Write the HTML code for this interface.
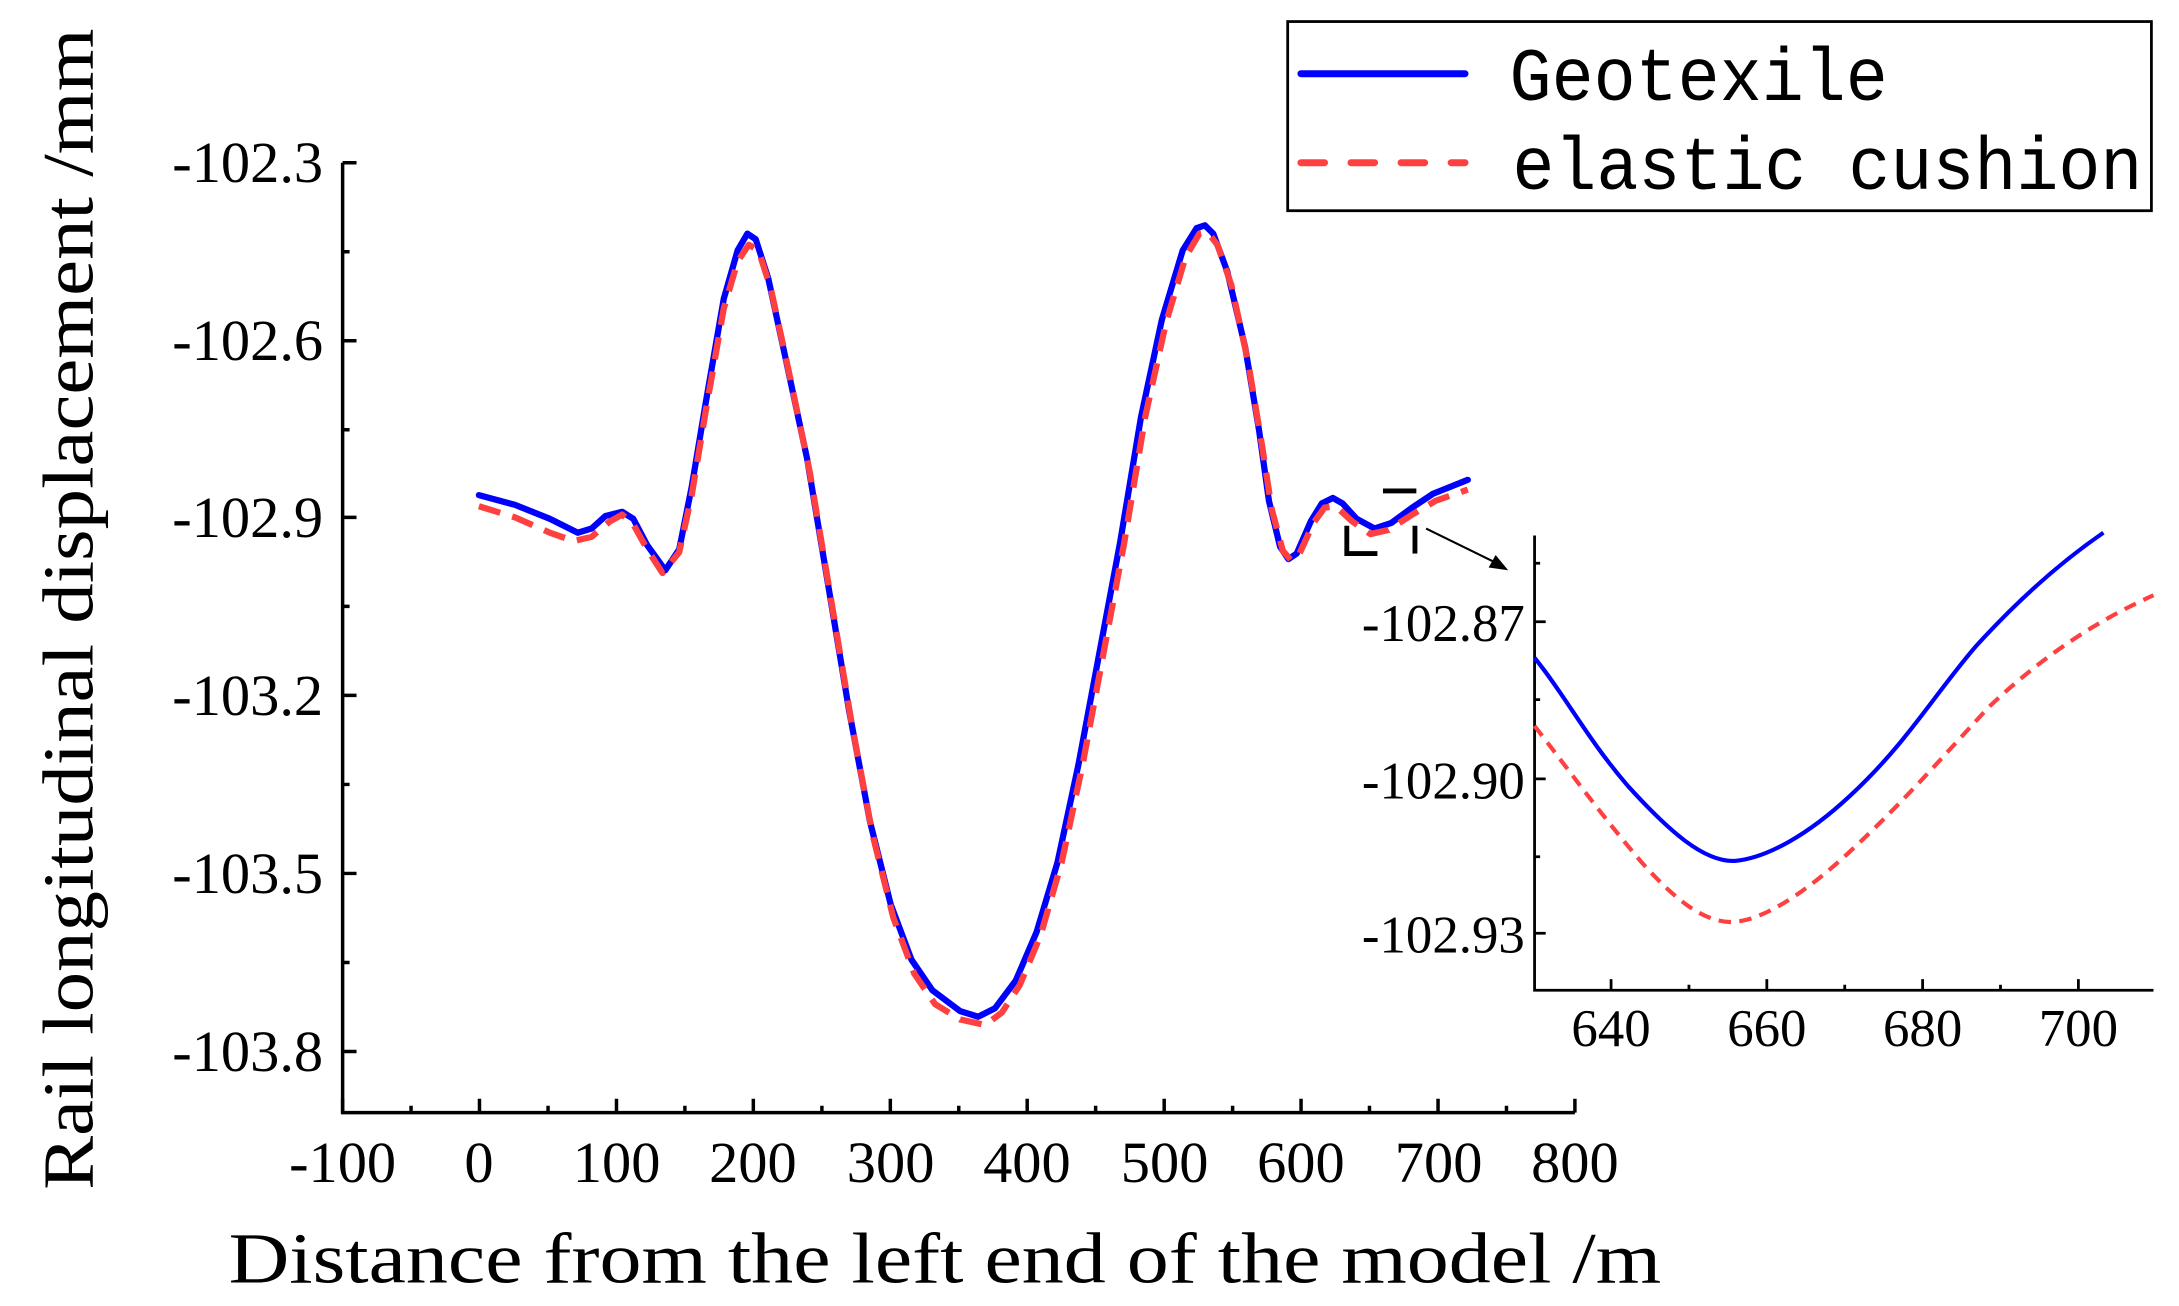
<!DOCTYPE html>
<html><head><meta charset="utf-8"><style>html,body{margin:0;padding:0;background:#fff}svg{display:block}</style></head>
<body>
<svg width="2179" height="1306" viewBox="0 0 1566 939" xmlns="http://www.w3.org/2000/svg">
<rect width="1566" height="939" fill="#fff"/>
<g stroke="#000" stroke-width="2.5" fill="none">
<path d="M246,117 V800 H1132"/>
<path d="M246,117h10M246,245h10M246,372h10M246,500h10M246,628h10M246,756h10"/>
<path d="M246,181h5M246,309h5M246,436h5M246,564h5M246,692h5"/>
<path d="M246,800v-10M344.4,800v-10M442.9,800v-10M541.3,800v-10M639.8,800v-10M738.2,800v-10M836.7,800v-10M935.1,800v-10M1033.6,800v-10M1132,800v-10"/>
<path d="M295.2,800v-5M393.7,800v-5M492.1,800v-5M590.6,800v-5M689,800v-5M787.4,800v-5M885.9,800v-5M984.3,800v-5M1082.8,800v-5"/>
</g>
<g font-family="Liberation Serif, serif" font-size="42" fill="#000" text-anchor="end">
<text x="232" y="131">-102.3</text>
<text x="232" y="259">-102.6</text>
<text x="232" y="386">-102.9</text>
<text x="232" y="514">-103.2</text>
<text x="232" y="642">-103.5</text>
<text x="232" y="770">-103.8</text>
</g>
<g font-family="Liberation Serif, serif" font-size="42" fill="#000" text-anchor="middle">
<text x="246" y="850">-100</text><text x="344" y="850">0</text><text x="443" y="850">100</text><text x="541" y="850">200</text><text x="640" y="850">300</text><text x="738" y="850">400</text><text x="837" y="850">500</text><text x="935" y="850">600</text><text x="1034" y="850">700</text><text x="1132" y="850">800</text>
</g>
<text x="679" y="922" font-family="Liberation Serif, serif" font-size="52" text-anchor="middle" textLength="1030" lengthAdjust="spacingAndGlyphs">Distance from the left end of the model /m</text>
<text transform="translate(66,438) rotate(-90)" font-family="Liberation Serif, serif" font-size="52" text-anchor="middle" textLength="835" lengthAdjust="spacingAndGlyphs">Rail longitudinal displacement /mm</text>

<path fill="none" stroke="#0000ff" stroke-width="4.5" stroke-linejoin="round" stroke-linecap="round" d="M344,356 L370,363 L395,373 L415,383 L425,380 L435,371 L447,368 L455,373 L465,392 L478,410 L488,395 L497,350 L507,290 L520,215 L530,180 L537,168 L543,172 L552,200 L565,260 L580,330 L595,420 L610,510 L625,590 L640,650 L655,690 L670,712 L690,727 L703,731 L715,725 L730,705 L745,670 L760,620 L775,550 L790,470 L805,390 L820,300 L835,230 L850,180 L860,164 L866,162 L872,168 L882,195 L895,250 L905,310 L912,360 L920,393 L926,402 L932,398 L942,375 L950,362 L958,358 L965,362 L975,373 L988,380 L1000,376 L1015,365 L1030,355 L1055,345"/>
<path fill="none" stroke="#ff4040" stroke-width="4.5" stroke-linejoin="round" stroke-dasharray="16,9" d="M344,364 L370,372 L395,383 L412,389 L425,386 L438,375 L447,370 L455,377 L465,395 L476,412 L488,397 L497,356 L507,296 L520,222 L530,188 L538,176 L545,180 L554,208 L567,268 L582,340 L597,430 L612,520 L627,600 L642,660 L657,700 L672,722 L690,733 L708,737 L720,728 L733,708 L748,672 L763,620 L778,550 L793,470 L808,390 L823,300 L838,232 L852,185 L862,168 L868,167 L875,176 L885,205 L897,260 L907,320 L914,366 L922,396 L928,403 L934,398 L944,376 L952,365 L960,364 L972,375 L985,384 L998,381 L1015,370 L1032,360 L1055,352"/>

<g stroke="#000" stroke-width="3.5" fill="none">
<path d="M968,378 V398 H990"/><path d="M994,353 H1018"/><path d="M1017,378 V398"/>
</g>
<path d="M1025,380 L1078,406" stroke="#000" stroke-width="1.5"/>
<path d="M1084,410 L1070,408 L1075,399 Z" fill="#000"/>

<g stroke="#000" stroke-width="2" fill="none">
<path d="M1103,385 V712 H1548"/>
<path d="M1103,447h8M1103,560h8M1103,671h8M1103,503h4M1103,616h4M1103,405h4"/>
<path d="M1158,712v-8M1270,712v-8M1382,712v-8M1494,712v-8M1214,712v-4M1326,712v-4M1438,712v-4"/>
</g>
<g font-family="Liberation Serif, serif" font-size="38" fill="#000" text-anchor="end">
<text x="1096" y="461">-102.87</text><text x="1096" y="574">-102.90</text><text x="1096" y="685">-102.93</text>
</g>
<g font-family="Liberation Serif, serif" font-size="38" fill="#000" text-anchor="middle">
<text x="1158" y="752">640</text><text x="1270" y="752">660</text><text x="1382" y="752">680</text><text x="1494" y="752">700</text>
</g>
<path fill="none" stroke="#0000ff" stroke-width="3" d="M1103,473 C1125,500 1140,530 1170,565 C1200,598 1225,620 1247,619 C1270,617 1300,600 1330,572 C1370,535 1390,500 1420,465 C1450,432 1480,405 1512,383"/>
<path fill="none" stroke="#ff4040" stroke-width="3" stroke-dasharray="9,6" d="M1103,522 C1125,550 1150,585 1180,620 C1205,648 1225,663 1245,663 C1268,662 1300,640 1330,612 C1370,575 1400,540 1430,508 C1470,470 1510,445 1548,428"/>

<rect x="925.5" y="15.5" width="621" height="136" fill="#fff" stroke="#000" stroke-width="2"/>
<line x1="935" y1="53" x2="1053" y2="53" stroke="#0000ff" stroke-width="5" stroke-linecap="round"/>
<line x1="935" y1="117" x2="1053" y2="117" stroke="#ff4040" stroke-width="5" stroke-linecap="round" stroke-dasharray="17,19"/>
<text x="1085" y="72" font-family="Liberation Mono, monospace" font-size="54" textLength="272" lengthAdjust="spacingAndGlyphs">Geotexile</text>
<text x="1087" y="136" font-family="Liberation Mono, monospace" font-size="54" textLength="453" lengthAdjust="spacingAndGlyphs">elastic cushion</text>
</svg>
</body></html>
